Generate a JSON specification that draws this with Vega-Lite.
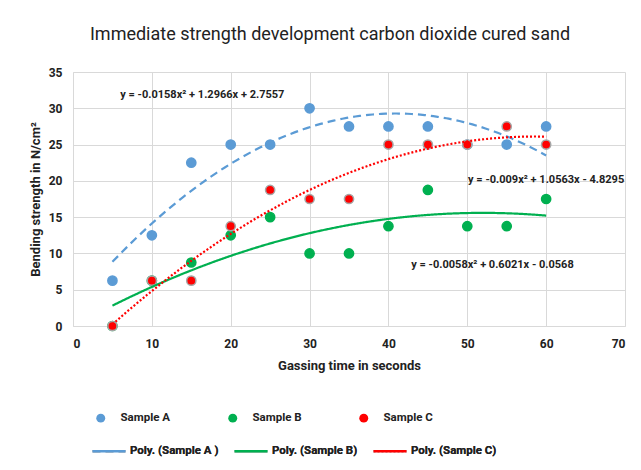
{
  "$schema": "https://vega.github.io/schema/vega-lite/v6.json",
  "width": 552,
  "height": 254,
  "autosize": "none",
  "padding": {"left": 73, "top": 72, "right": 16, "bottom": 144},
  "background": "white",
  "config": {
    "font": "Roboto, sans-serif",
    "view": {"stroke": null},
    "axis": {
      "gridColor": "#d9d9d9",
      "domainColor": "#d9d9d9",
      "ticks": false,
      "labelFontSize": 12,
      "labelFontWeight": "bold",
      "labelColor": "#222222",
      "labelOverlap": false,
      "titleFontSize": 13,
      "titleFontWeight": "bold",
      "titleColor": "#222222"
    },
    "legend": {"padding": 0, "labelFontSize": 11.5, "labelFontWeight": "bold", "labelColor": "#222222"}
  },
  "title": {
    "text": "Immediate strength development carbon dioxide cured sand",
    "fontSize": 18,
    "fontWeight": "normal",
    "color": "#222222",
    "anchor": "middle",
    "dx": -19,
    "offset": 22
  },
  "datasets": {
    "pts": [
      {"t": 5, "v": 6.25, "series": "Sample A", "trend": "Poly. (Sample A )"},
      {"t": 10, "v": 12.5, "series": "Sample A", "trend": "Poly. (Sample A )"},
      {"t": 15, "v": 22.5, "series": "Sample A", "trend": "Poly. (Sample A )"},
      {"t": 20, "v": 25, "series": "Sample A", "trend": "Poly. (Sample A )"},
      {"t": 25, "v": 25, "series": "Sample A", "trend": "Poly. (Sample A )"},
      {"t": 30, "v": 30, "series": "Sample A", "trend": "Poly. (Sample A )"},
      {"t": 35, "v": 27.5, "series": "Sample A", "trend": "Poly. (Sample A )"},
      {"t": 40, "v": 27.5, "series": "Sample A", "trend": "Poly. (Sample A )"},
      {"t": 45, "v": 27.5, "series": "Sample A", "trend": "Poly. (Sample A )"},
      {"t": 50, "v": 25, "series": "Sample A", "trend": "Poly. (Sample A )"},
      {"t": 55, "v": 25, "series": "Sample A", "trend": "Poly. (Sample A )"},
      {"t": 60, "v": 27.5, "series": "Sample A", "trend": "Poly. (Sample A )"},
      {"t": 5, "v": 0, "series": "Sample B", "trend": "Poly. (Sample B)"},
      {"t": 10, "v": 6.25, "series": "Sample B", "trend": "Poly. (Sample B)"},
      {"t": 15, "v": 8.75, "series": "Sample B", "trend": "Poly. (Sample B)"},
      {"t": 20, "v": 12.5, "series": "Sample B", "trend": "Poly. (Sample B)"},
      {"t": 25, "v": 15, "series": "Sample B", "trend": "Poly. (Sample B)"},
      {"t": 30, "v": 10, "series": "Sample B", "trend": "Poly. (Sample B)"},
      {"t": 35, "v": 10, "series": "Sample B", "trend": "Poly. (Sample B)"},
      {"t": 40, "v": 13.75, "series": "Sample B", "trend": "Poly. (Sample B)"},
      {"t": 45, "v": 18.75, "series": "Sample B", "trend": "Poly. (Sample B)"},
      {"t": 50, "v": 13.75, "series": "Sample B", "trend": "Poly. (Sample B)"},
      {"t": 55, "v": 13.75, "series": "Sample B", "trend": "Poly. (Sample B)"},
      {"t": 60, "v": 17.5, "series": "Sample B", "trend": "Poly. (Sample B)"},
      {"t": 5, "v": 0, "series": "Sample C", "trend": "Poly. (Sample C)"},
      {"t": 10, "v": 6.25, "series": "Sample C", "trend": "Poly. (Sample C)"},
      {"t": 15, "v": 6.25, "series": "Sample C", "trend": "Poly. (Sample C)"},
      {"t": 20, "v": 13.75, "series": "Sample C", "trend": "Poly. (Sample C)"},
      {"t": 25, "v": 18.75, "series": "Sample C", "trend": "Poly. (Sample C)"},
      {"t": 30, "v": 17.5, "series": "Sample C", "trend": "Poly. (Sample C)"},
      {"t": 35, "v": 17.5, "series": "Sample C", "trend": "Poly. (Sample C)"},
      {"t": 40, "v": 25, "series": "Sample C", "trend": "Poly. (Sample C)"},
      {"t": 45, "v": 25, "series": "Sample C", "trend": "Poly. (Sample C)"},
      {"t": 50, "v": 25, "series": "Sample C", "trend": "Poly. (Sample C)"},
      {"t": 55, "v": 27.5, "series": "Sample C", "trend": "Poly. (Sample C)"},
      {"t": 60, "v": 25, "series": "Sample C", "trend": "Poly. (Sample C)"}
    ],
    "eqs": [
      {"t": 16.4, "v": 31.8, "label": "y = -0.0158x² + 1.2966x + 2.7557"},
      {"t": 60.0, "v": 20.1, "label": "y = -0.009x² + 1.0563x - 4.8295"},
      {"t": 53.2, "v": 8.4, "label": "y = -0.0058x² + 0.6021x - 0.0568"}
    ]
  },
  "encoding": {
    "x": {"field": "t", "type": "quantitative", "scale": {"domain": [0, 70]},
          "axis": {"values": [0, 10, 20, 30, 40, 50, 60, 70], "title": "Gassing time in seconds", "labelPadding": 12, "titlePadding": 10}},
    "y": {"field": "v", "type": "quantitative", "scale": {"domain": [0, 35]},
          "axis": {"values": [0, 5, 10, 15, 20, 25, 30, 35], "title": "Bending strength in N/cm²", "labelPadding": 11, "titlePadding": 6}}
  },
  "resolve": {"scale": {"color": "independent"}},
  "layer": [
    {
      "data": {"name": "pts"},
      "mark": {"type": "circle", "size": 85, "opacity": 1},
      "encoding": {
        "color": {"field": "series", "type": "nominal",
                  "scale": {"domain": ["Sample A", "Sample B", "Sample C"], "range": ["#5B9BD5", "#00B050", "#FF0000"]},
                  "legend": {"title": null, "orient": "none", "legendX": 22, "legendY": 340, "direction": "horizontal", "columns": 3, "columnPadding": 56, "symbolType": "circle", "symbolSize": 80, "labelOffset": 14}},
        "stroke": {"field": "series", "type": "nominal",
                   "scale": {"domain": ["Sample A", "Sample B", "Sample C"], "range": ["#5B9BD5", "#00B050", "#a6a6a6"]},
                   "legend": null},
        "strokeWidth": {"value": 1.5}
      }
    },
    {
      "data": {"name": "pts"},
      "transform": [
        {"regression": "v", "on": "t", "groupby": ["trend"], "method": "poly", "order": 2, "extent": [5, 60]}
      ],
      "mark": {"type": "line", "strokeWidth": 2.2},
      "encoding": {
        "color": {"field": "trend", "type": "nominal",
                  "scale": {"domain": ["Poly. (Sample A )", "Poly. (Sample B)", "Poly. (Sample C)"], "range": ["#5B9BD5", "#00B050", "#FF0000"]},
                  "legend": {"title": null, "orient": "none", "legendX": 18, "legendY": 361, "direction": "horizontal", "columns": 3, "columnPadding": 10, "symbolType": "stroke", "symbolSize": 1089, "symbolStrokeWidth": 2.5, "labelOffset": 3}},
        "strokeDash": {"field": "trend", "type": "nominal",
                       "scale": {"domain": ["Poly. (Sample A )", "Poly. (Sample B)", "Poly. (Sample C)"], "range": [[8, 5], [1, 0], [2, 2]]},
                       "legend": {"title": null, "orient": "none", "legendX": 18, "legendY": 361, "direction": "horizontal", "columns": 3, "columnPadding": 10, "symbolType": "stroke", "symbolSize": 1089, "symbolStrokeWidth": 2.5, "labelOffset": 3}}
      }
    },
    {
      "data": {"name": "eqs"},
      "mark": {"type": "text", "fontSize": 11, "fontWeight": "bold", "color": "#222222", "align": "center", "baseline": "middle"},
      "encoding": {
        "text": {"field": "label"}
      }
    }
  ]
}
